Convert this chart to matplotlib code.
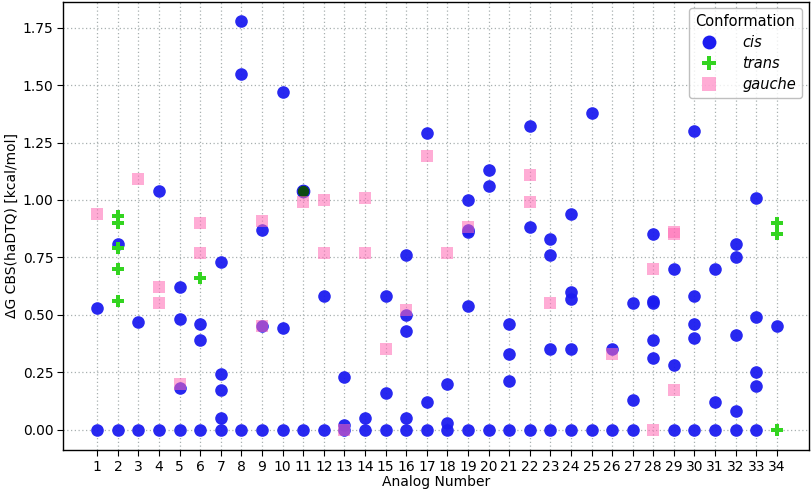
import matplotlib
matplotlib.use("Agg")
import matplotlib.pyplot as plt
from matplotlib.lines import Line2D

analogs = list(range(1, 35))

cis = {
    1: [0.53, 0.0], 2: [0.81, 0.0], 3: [0.47, 0.0], 4: [1.04, 0.0],
    5: [0.62, 0.48, 0.18, 0.0], 6: [0.46, 0.39, 0.0],
    7: [0.73, 0.24, 0.17, 0.05, 0.0], 8: [1.78, 1.55, 0.0],
    9: [0.87, 0.45, 0.0], 10: [1.47, 0.44, 0.0], 11: [0.0],
    12: [0.58, 0.0], 13: [0.23, 0.02, 0.0], 14: [0.05, 0.0],
    15: [0.58, 0.16, 0.0], 16: [0.76, 0.50, 0.43, 0.05, 0.0],
    17: [1.29, 0.12, 0.0], 18: [0.20, 0.03, 0.0],
    19: [1.00, 0.87, 0.86, 0.54, 0.0], 20: [1.13, 1.06, 0.0],
    21: [0.46, 0.33, 0.21, 0.0], 22: [1.32, 0.88, 0.0],
    23: [0.83, 0.76, 0.35, 0.0], 24: [0.94, 0.60, 0.57, 0.35, 0.0],
    25: [1.38, 0.0], 26: [0.35, 0.0], 27: [0.55, 0.13, 0.0],
    28: [0.85, 0.56, 0.55, 0.39, 0.31], 29: [0.70, 0.28, 0.0],
    30: [1.30, 0.58, 0.46, 0.40, 0.0], 31: [0.70, 0.12, 0.0],
    32: [0.81, 0.75, 0.41, 0.08, 0.0], 33: [1.01, 0.49, 0.25, 0.19, 0.0],
    34: [0.45],
}
trans = {
    2: [0.93, 0.90, 0.79, 0.70, 0.56], 6: [0.66], 34: [0.90, 0.85, 0.0],
}
gauche = {
    1: [0.94], 3: [1.09], 4: [0.62, 0.55], 5: [0.20], 6: [0.90, 0.77],
    9: [0.91, 0.45], 11: [0.99], 12: [1.00, 0.77], 13: [0.0],
    14: [1.01, 0.77], 15: [0.35], 16: [0.52], 17: [1.19], 18: [0.77],
    19: [0.88], 22: [1.11, 0.99], 23: [0.55], 26: [0.33], 28: [0.70, 0.0],
    29: [0.86, 0.85, 0.17],
}
overlap = {11: [1.04]}  # cis + trans coinciding (dark marker)

yticks = [0.00, 0.25, 0.50, 0.75, 1.00, 1.25, 1.50, 1.75]


def flat(d):
    xs, ys = [], []
    for k, vals in d.items():
        for v in vals:
            xs.append(k)
            ys.append(v)
    return xs, ys


fig = plt.figure(figsize=(8.12, 4.95), dpi=100)
ax = fig.add_axes([0.078, 0.091, 0.918, 0.905])

c_cis = "#1c1cf0"
c_trans = "#33d420"
c_gauche = "#ff69b4"

ax.set_axisbelow(True)
ax.grid(True, linestyle=(0, (1, 2)), color="#a8b0b0", linewidth=0.9)

x, y = flat(cis)
ax.scatter(x, y, s=82, marker="o", color=c_cis, alpha=0.95, linewidths=0, zorder=3)
x, y = flat(overlap)
ax.scatter(x, y, s=82, marker="o", facecolor="#0d4a12", edgecolor=c_cis,
           linewidths=0.8, zorder=3)
x, y = flat(trans)
ax.scatter(x, y, s=72, marker="P", color=c_trans, linewidths=0, zorder=4)
x, y = flat(gauche)
ax.scatter(x, y, s=80, marker="s", color=c_gauche, alpha=0.55, linewidths=0, zorder=5)

ax.set_xlim(-0.65, 35.55)
ax.set_ylim(-0.089, 1.862)
ax.set_xticks(analogs)
ax.set_xticklabels([str(a) for a in analogs])
ax.set_yticks(yticks)
ax.set_yticklabels([f"{t:.2f}" for t in yticks])
ax.tick_params(labelsize=10, length=4, pad=3)

ax.set_xlabel("Analog Number", fontsize=10, labelpad=1)
ax.set_ylabel("ΔG CBS(haDTQ) [kcal/mol]", fontsize=10, labelpad=3)

for sp in ax.spines.values():
    sp.set_linewidth(1.0)

handles = [
    Line2D([], [], linestyle="", marker="o", markersize=10, color=c_cis, markeredgewidth=0),
    Line2D([], [], linestyle="", marker="P", markersize=9.5, color=c_trans, markeredgewidth=0),
    Line2D([], [], linestyle="", marker="s", markersize=9.5, color=c_gauche, alpha=0.55, markeredgewidth=0),
]
leg = ax.legend(handles, ["cis", "trans", "gauche"], title="Conformation",
                loc="upper right", title_fontsize=10.5,
                prop={"style": "italic", "size": 10.5}, frameon=True,
                borderpad=0.4, handletextpad=1.3, labelspacing=0.42,
                borderaxespad=0.3, bbox_to_anchor=(0.997, 0.997))
leg.get_frame().set_edgecolor("#b0b0b0")
leg.get_frame().set_linewidth(1.0)

fig.savefig("out.png", dpi=100)
